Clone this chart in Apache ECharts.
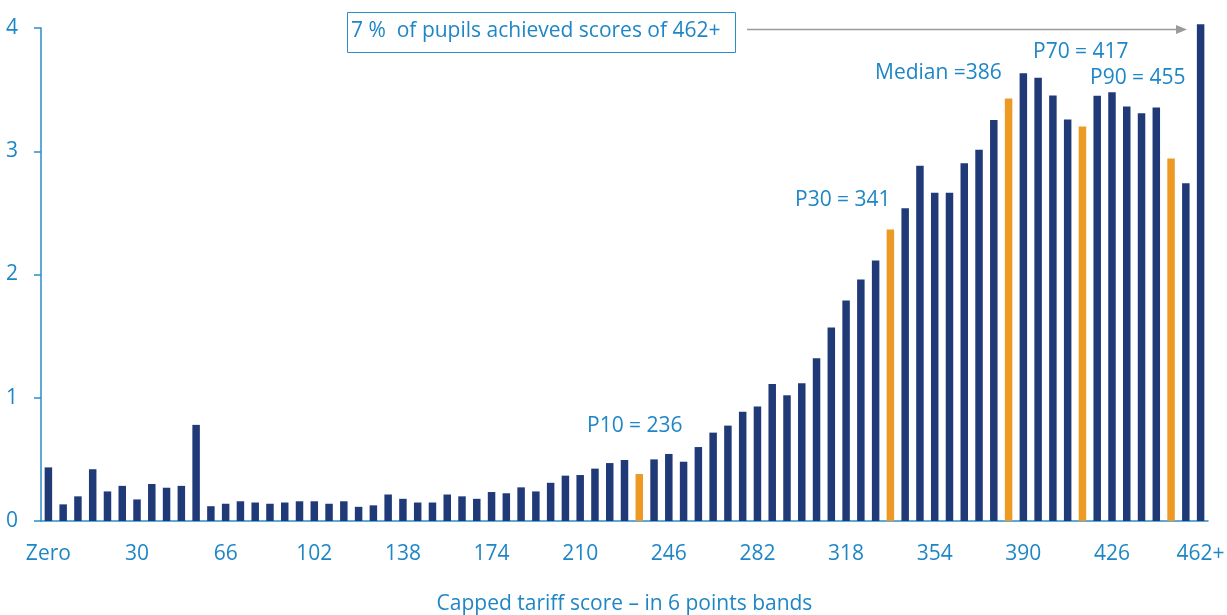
<!DOCTYPE html>
<html>
<head>
<meta charset="utf-8">
<script src="https://cdn.jsdelivr.net/npm/echarts@6/dist/echarts.min.js"></script>
<style>
  html, body {margin: 0; padding: 0; background: #fff;}
  #chart {width: 1227px; height: 615px;}
</style>
</head>
<body>
<div id="chart"></div>
<script>
// score bands, 6 points wide
const categories = ['Zero', '0', '6', '12', '18', '24', '30', '36', '42', '48', '54', '60', '66', '72', '78', '84',
  '90', '96', '102', '108', '114', '120', '126', '132', '138', '144', '150', '156', '162', '168', '174', '180',
  '186', '192', '198', '204', '210', '216', '222', '228', '234', '240', '246', '252', '258', '264', '270', '276',
  '282', '288', '294', '300', '306', '312', '318', '324', '330', '336', '342', '348', '354', '360', '366', '372',
  '378', '384', '390', '396', '402', '408', '414', '420', '426', '432', '438', '444', '450', '456', '462+'];

// % of pupils in each band
const pupilShare = [0.435, 0.135, 0.20, 0.42, 0.24, 0.285, 0.175, 0.30, 0.27, 0.285, 0.78,
  0.12, 0.14, 0.16, 0.15, 0.14, 0.15, 0.16, 0.16, 0.14, 0.16,
  0.115, 0.127, 0.215, 0.18, 0.15, 0.15, 0.215, 0.20, 0.18, 0.235,
  0.225, 0.273, 0.24, 0.31, 0.368, 0.373, 0.425, 0.47, 0.495, 0.381,
  0.50, 0.544, 0.481, 0.60, 0.717, 0.774, 0.887, 0.93, 1.112, 1.02,
  1.117, 1.32, 1.57, 1.79, 1.96, 2.113, 2.366, 2.537, 2.883, 2.664,
  2.664, 2.902, 3.013, 3.254, 3.427, 3.632, 3.597, 3.452, 3.257, 3.20,
  3.45, 3.479, 3.364, 3.309, 3.355, 2.941, 2.741, 4.03];

// bands holding P10, P30, median, P70, P90
const percentileBands = ['234', '336', '384', '414', '450'];

const yTicks = [0, 1, 2, 3, 4];

const axisBlue = '#2a8dcc';
const textBlue = '#1f86c6';
const navy = '#203a78';
const orange = '#ec9a24';
const font = '"Open Sans", sans-serif';
const fs = 21;

const chart = echarts.init(document.getElementById('chart'));

const barData = pupilShare.map((v, i) => ({
  value: v,
  itemStyle: {color: percentileBands.indexOf(categories[i]) >= 0 ? orange : navy}
}));

function note(text, x, y) {
  return {
    type: 'text',
    style: {text: text, x: x, y: y, fill: textBlue, fontSize: fs, fontFamily: font, textVerticalAlign: 'middle'}
  };
}

chart.setOption({
  animation: false,
  grid: {left: 41, right: 19, top: 28, bottom: 94, outerBoundsMode: 'none', containLabel: false},
  xAxis: {
    type: 'category',
    data: categories,
    name: 'Capped tariff score \u2013 in 6 points bands',
    nameLocation: 'middle',
    nameGap: 73,
    nameTextStyle: {color: textBlue, fontSize: fs, fontFamily: font},
    axisLine: {lineStyle: {color: axisBlue, width: 1.5}},
    axisTick: {interval: 5, length: 7, lineStyle: {color: axisBlue, width: 1.5}},
    axisLabel: {interval: 5, color: textBlue, fontSize: fs, fontFamily: font, margin: 23}
  },
  yAxis: {
    type: 'value',
    min: yTicks[0],
    max: yTicks[yTicks.length - 1],
    interval: 1,
    splitLine: {show: false},
    axisLine: {show: true, lineStyle: {color: axisBlue, width: 1.5}},
    axisTick: {show: true, length: 7, lineStyle: {color: axisBlue, width: 1.5}},
    axisLabel: {color: textBlue, fontSize: fs, fontFamily: font, margin: 23}
  },
  series: [{
    type: 'bar',
    data: barData,
    barWidth: 7.5,
    clip: false
  }],
  graphic: [
    {
      type: 'rect',
      shape: {x: 347.5, y: 12.5, width: 388, height: 40},
      style: {fill: 'none', stroke: axisBlue, lineWidth: 1}
    },
    note('7 %  of pupils achieved scores of 462+', 351, 31),
    {
      type: 'line',
      shape: {x1: 747, y1: 29.5, x2: 1178, y2: 29.5},
      style: {stroke: '#9a9a9a', lineWidth: 1.5}
    },
    {
      type: 'polygon',
      shape: {points: [[1176, 25], [1187, 29.5], [1176, 34]]},
      style: {fill: '#9a9a9a'}
    },
    note('P10 = 236', 587, 426),
    note('P30 = 341', 795, 200),
    note('Median =386', 875, 73),
    note('P70 = 417', 1033, 52),
    note('P90 = 455', 1090, 78)
  ]
});
</script>
</body>
</html>
